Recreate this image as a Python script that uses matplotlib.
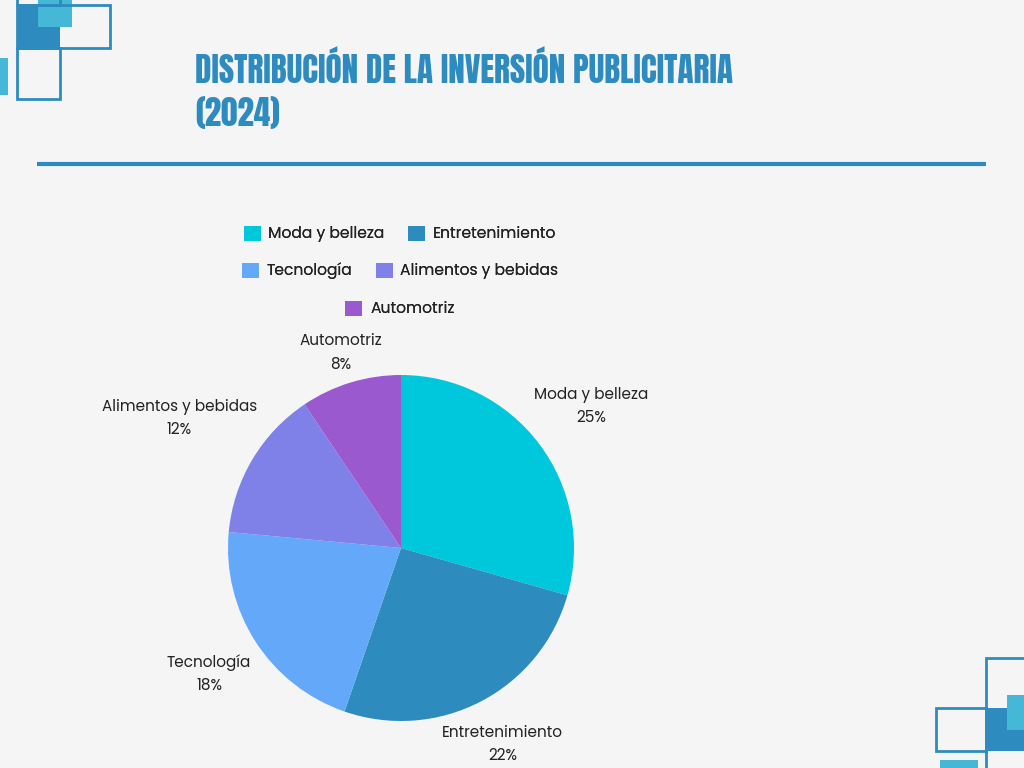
import matplotlib
matplotlib.use('Agg')
import matplotlib.pyplot as plt
from matplotlib.patches import Rectangle, Patch
from matplotlib import font_manager
import numpy as np

categories = ['Moda y belleza', 'Entretenimiento', 'Tecnología', 'Alimentos y bebidas', 'Automotriz']
values = [25, 22, 18, 12, 8]
colors = ['#00C8DC', '#2E8BBE', '#64A8FA', '#7F80E8', '#9B59D0']
title = 'DISTRIBUCIÓN DE LA INVERSIÓN PUBLICITARIA\n(2024)'

W, H = 1024, 768
BG = '#F5F5F5'
DARK = '#2E8BC0'
LIGHT = '#45B8D8'

# pick a narrow bold face for the title if one is installed
names = set(f.name for f in font_manager.fontManager.ttflist)
title_family = 'DejaVu Sans'
for cand in ['Anton', 'Bebas Neue', 'Oswald', 'League Gothic', 'Roboto Condensed',
             'Liberation Sans Narrow', 'Open Sans Condensed', 'DejaVu Sans Condensed']:
    if cand in names:
        title_family = cand
        break
has_cond = any(f.name == 'DejaVu Sans' and f.stretch == 'condensed'
               for f in font_manager.fontManager.ttflist)

fig = plt.figure(figsize=(W / 100, H / 100), dpi=100, facecolor=BG)
ax = fig.add_axes([0, 0, 1, 1])
ax.set_facecolor(BG)

def Y(y):
    return H - y

# pie, centre and radius in pixels
cx, cy, r = 401, 548, 173
wedges, _ = ax.pie(values, colors=colors, startangle=90, counterclock=False,
                   center=(cx, Y(cy)), radius=r, frame=True,
                   wedgeprops=dict(linewidth=0))

label_font = ['Poppins', 'Open Sans', 'DejaVu Sans']
dist = [1.38, 1.27, 1.32, 1.49, 1.19]
for w, name, v, d in zip(wedges, categories, values, dist):
    ang = np.deg2rad((w.theta1 + w.theta2) / 2)
    x = cx + d * r * np.cos(ang)
    y = Y(cy) + d * r * np.sin(ang)
    ax.text(x, y - 2, f'{name}\n{v}%', ha='center', va='center', fontsize=11,
            color='#222222', family=label_font, linespacing=1.6)

ax.set_xlim(0, W)
ax.set_ylim(0, H)
ax.set_aspect('auto')
ax.axis('off')

# legend rows (2, 2, 1), centred
rows = [[0, 1], [2, 3], [4]]
row_y = [233, 270, 308]
for idx, yy in zip(rows, row_y):
    handles = [Patch(facecolor=colors[i], edgecolor='none') for i in idx]
    lg = fig.legend(handles, [categories[i] for i in idx], ncol=len(idx),
                    loc='center', bbox_to_anchor=(400 / W, Y(yy + 1) / H),
                    frameon=False, handlelength=1.1, handleheight=1.1,
                    handletextpad=0.5, columnspacing=1.5,
                    prop=dict(family=label_font, size=11.2))
    for t in lg.get_texts():
        t.set_color('#222222')
    fig.add_artist(lg)

# title, first line fitted to the reference width
tkw = dict(ha='left', va='baseline', color=DARK, fontweight='bold',
           family=[title_family, 'DejaVu Sans'])
if title_family == 'DejaVu Sans' and has_cond:
    tkw['fontstretch'] = 'condensed'
line1, line2 = title.split('\n')
t1 = ax.text(195, Y(83), line1, fontsize=30, **tkw)
fig.canvas.draw()
fs = 30 * 538 / t1.get_window_extent().width
t1.set_fontsize(fs)
ax.text(195, Y(126), line2, fontsize=fs, **tkw)

# separator line
ax.plot([37, 986], [Y(164), Y(164)], color=DARK, linewidth=3, solid_capstyle='butt')

# corner decorations
def rect(x0, y0, x1, y1, fill=None, edge=None, lw=2):
    ax.add_patch(Rectangle((x0, Y(y1)), x1 - x0, y1 - y0,
                           facecolor=fill if fill else 'none',
                           edgecolor=edge if edge else 'none', linewidth=lw))

rect(17, 5, 60, 48, fill=DARK)
rect(38, -2, 72, 27, fill=LIGHT)
rect(17, 5, 110, 48, edge=DARK)
rect(17, 48, 60, 99, edge=DARK)
rect(17, -5, 60, 5, edge=DARK)
rect(-2, 58, 8, 95, fill=LIGHT)

rect(986, 708, 1030, 751, fill=DARK)
rect(1007, 695, 1030, 730, fill=LIGHT)
rect(986, 658, 1030, 775, edge=DARK)
rect(936, 708, 986, 751, edge=DARK)
rect(940, 760, 978, 775, fill=LIGHT)

fig.savefig('out.png', dpi=100, facecolor=BG)
